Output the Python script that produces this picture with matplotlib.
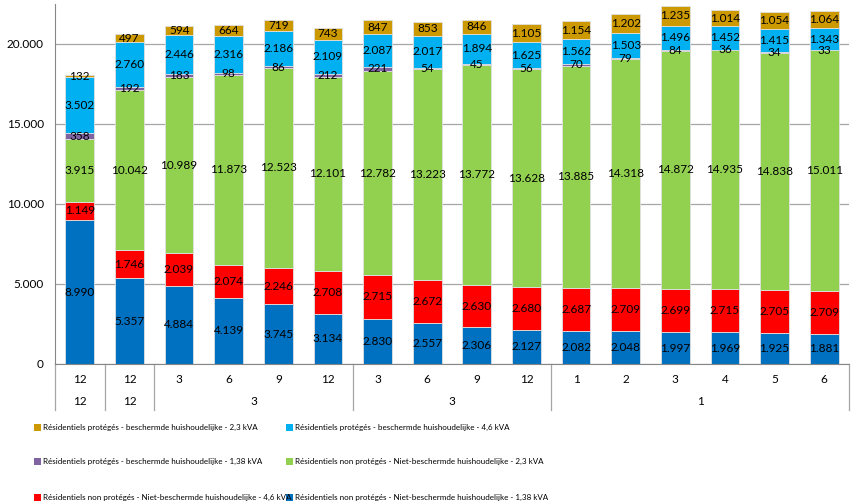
import numpy as np
import matplotlib
matplotlib.use("Agg")
import matplotlib.pyplot as plt
from matplotlib.patches import Rectangle
from matplotlib.transforms import blended_transform_factory

plt.rcParams['font.family'] = ['Lato', 'DejaVu Sans']

# periods: month (row 1) / year group (row 2)
months = ["12", "12", "3", "6", "9", "12", "3", "6", "9", "12", "1", "2", "3", "4", "5", "6"]
groups = [("12", 0, 0), ("12", 1, 1), ("3", 2, 5), ("3", 6, 9), ("1", 10, 15)]

# stacked series, bottom to top
non_prot_138 = [8990, 5357, 4884, 4139, 3745, 3134, 2830, 2557, 2306, 2127, 2082, 2048, 1997, 1969, 1925, 1881]
non_prot_46 = [1149, 1746, 2039, 2074, 2246, 2708, 2715, 2672, 2630, 2680, 2687, 2709, 2699, 2715, 2705, 2709]
non_prot_23 = [3915, 10042, 10989, 11873, 12523, 12101, 12782, 13223, 13772, 13628, 13885, 14318, 14872, 14935, 14838, 15011]
prot_138 = [358, 192, 183, 98, 86, 212, 221, 54, 45, 56, 70, 79, 84, 36, 34, 33]
prot_46 = [3502, 2760, 2446, 2316, 2186, 2109, 2087, 2017, 1894, 1625, 1562, 1503, 1496, 1452, 1415, 1343]
prot_23 = [132, 497, 594, 664, 719, 743, 847, 853, 846, 1105, 1154, 1202, 1235, 1014, 1054, 1064]

series = [
    (non_prot_138, "#0070C0", "Résidentiels non protégés - Niet-beschermde huishoudelijke - 1,38 kVA"),
    (non_prot_46, "#FF0000", "Résidentiels non protégés - Niet-beschermde huishoudelijke - 4,6 kVA"),
    (non_prot_23, "#92D050", "Résidentiels non protégés - Niet-beschermde huishoudelijke - 2,3 kVA"),
    (prot_138, "#8064A2", "Résidentiels protégés - beschermde huishoudelijke - 1,38 kVA"),
    (prot_46, "#00B0F0", "Résidentiels protégés - beschermde huishoudelijke - 4,6 kVA"),
    (prot_23, "#CC9900", "Résidentiels protégés - beschermde huishoudelijke - 2,3 kVA"),
]


def fmt(v):
    return f"{v:,}".replace(",", ".")


fig = plt.figure(figsize=(8.61, 5.04), dpi=100)
ax = fig.add_axes([55 / 861, 140 / 504, 794 / 861, 360 / 504])

x = np.arange(len(months))
bottom = np.zeros(len(months))
for vals, color, label in series:
    vals = np.array(vals)
    ax.bar(x, vals, 0.58, bottom=bottom, color=color, edgecolor="#E0E0E0", linewidth=0.6, zorder=2)
    for xi, b, v in zip(x, bottom, vals):
        ax.text(xi, b + v / 2, fmt(v), ha="center", va="center", fontsize=8.5, color="black", zorder=3)
    bottom += vals

ax.set_xlim(-0.5, len(months) - 0.5)
ax.set_ylim(0, 22500)
ax.set_yticks([0, 5000, 10000, 15000, 20000])
ax.set_yticklabels([fmt(v) for v in [0, 5000, 10000, 15000, 20000]], fontsize=8.5)
ax.tick_params(axis="y", length=0, pad=8)
ax.grid(axis="y", color="#A6A6A6", linewidth=0.9, zorder=0)
ax.set_xticks([])
for s in ["top", "right"]:
    ax.spines[s].set_visible(False)
ax.spines["left"].set_color("#868686")
ax.spines["bottom"].set_color("#868686")

# two-level category axis
tr = blended_transform_factory(ax.transData, ax.transAxes)
for xi, m in zip(x, months):
    ax.text(xi, -0.042, m, transform=tr, ha="center", va="center", fontsize=8.5)
for name, a, b in groups:
    ax.text((a + b) / 2, -0.103, name, transform=tr, ha="center", va="center", fontsize=8.5)
for sep in [-0.5, 0.5, 1.5, 5.5, 9.5, 15.5]:
    ax.plot([sep, sep], [0, -0.128], transform=tr, color="#A6A6A6", linewidth=0.9, clip_on=False)

# legend laid out in rows of two, as in the original
legend_rows = [(5, 4), (3, 2), (1, 0)]
row_y = [427, 461, 497]
col_x = [34, 286]
for (i_left, i_right), py in zip(legend_rows, row_y):
    for idx, px in zip([i_left, i_right], col_x):
        _, color, label = series[idx]
        fig.patches.append(Rectangle((px / 861, (504 - py - 3.5) / 504), 7 / 861, 7 / 504,
                                     transform=fig.transFigure, facecolor=color, edgecolor="none"))
        fig.text((px + 9) / 861, (504 - py) / 504, label, ha="left", va="center", fontsize=5.8)

fig.savefig("out.png", dpi=100)
